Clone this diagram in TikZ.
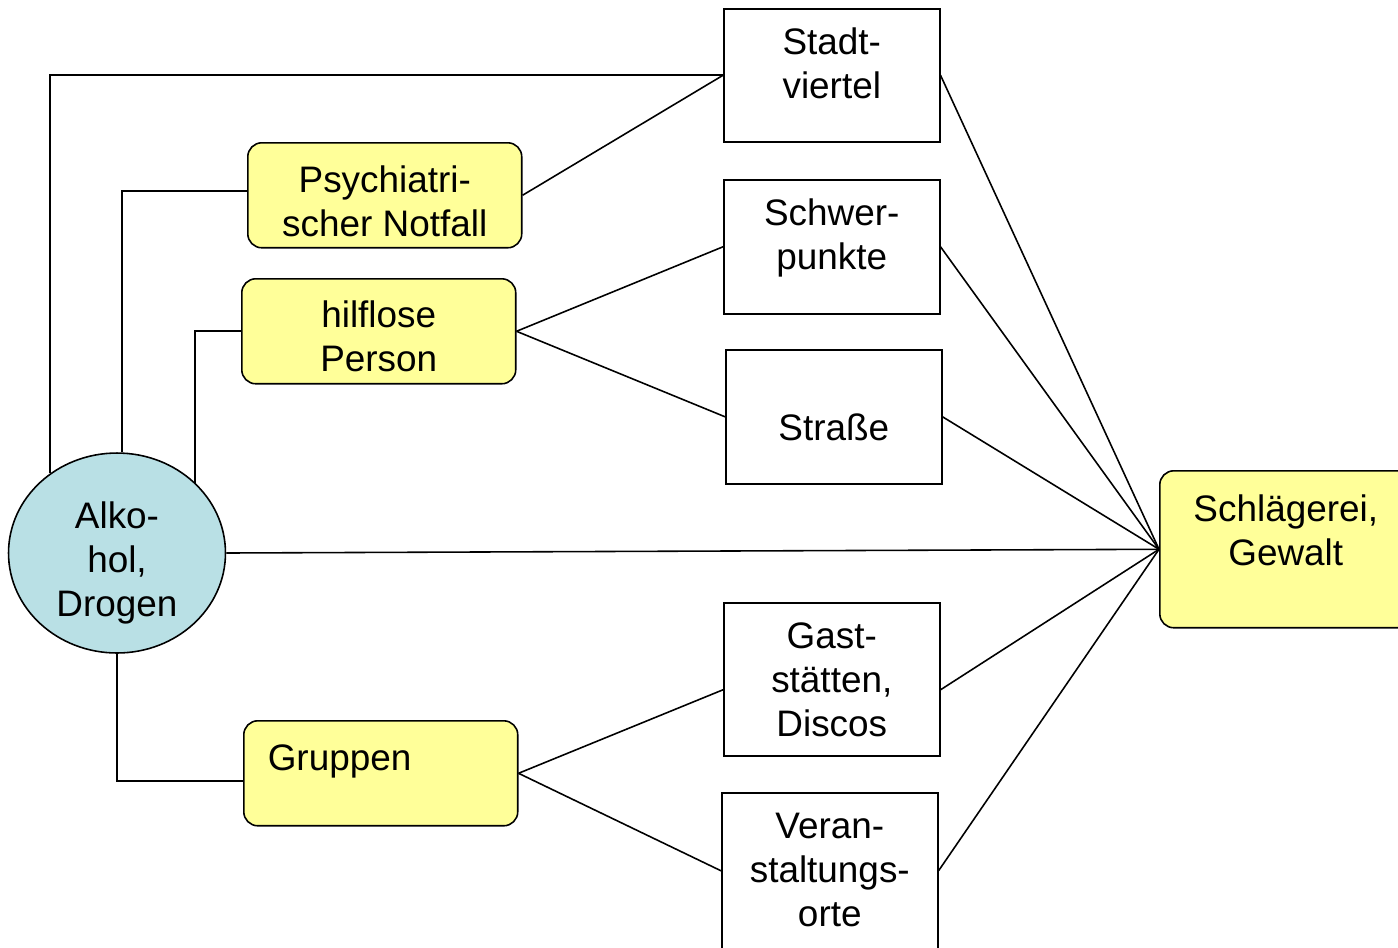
\documentclass[tikz,border=0pt]{standalone}
\usepackage{fontspec}
\setmainfont{Liberation Sans}
\usetikzlibrary{shapes.geometric}
\definecolor{notegelb}{RGB}{255,255,153}
\definecolor{drogenblau}{RGB}{185,224,229}
% box text: [alignment]{width}{height}{top gap}{text}
\newcommand{\boxtext}[5][\centering]{\parbox[c][#3][t]{#2}{\vspace*{#4}#1\strut #5}}

\begin{document}
\begin{tikzpicture}[x=0.02cm, y=-0.02cm, line width=0.9pt,
	every node/.style={font=\fontsize{21}{25}\selectfont, inner sep=0pt},
	ort/.style={draw, fill=white, anchor=north west},
	gelb/.style={draw, fill=notegelb, rounded corners=0.28cm, anchor=north west}]
	\useasboundingbox (0,0) rectangle (1398,947);
	\clip (0,0) rectangle (1398,947);
	
	% places
	\node[ort] (stadt) at (723,8) {\boxtext{4.32cm}{2.66cm}{8.5pt}{Stadt-\\viertel}};
	\node[ort] (schwer) at (723,179) {\boxtext{4.32cm}{2.68cm}{8.5pt}{Schwer-\\punkte}};
	\node[ort] (strasse) at (725,349) {\boxtext{4.32cm}{2.68cm}{34pt}{Straße}};
	\node[ort] (gast) at (723,602) {\boxtext{4.32cm}{3.06cm}{8.5pt}{Gast-\\stätten,\\Discos}};
	\node[ort] (veran) at (721,792) {\boxtext{4.32cm}{3.4cm}{8.5pt}{Veran-\\staltungs-\\orte}};
	
	% situations
	\node[gelb] (psych) at (247,142) {\boxtext{5.48cm}{2.1cm}{11pt}{Psychiatri-\\scher Notfall}};
	\node[gelb] (hilf) at (241,278) {\boxtext{5.48cm}{2.1cm}{10.5pt}{hilflose\\Person}};
	\node[gelb] (grp) at (243,720) {\boxtext[\raggedright\hspace*{0.48cm}]{5.48cm}{2.1cm}{10.5pt}{Gruppen}};
	\node[gelb] (schl) at (1159,470) {\boxtext{5.04cm}{3.14cm}{11.5pt}{Schlägerei,\\Gewalt}};
	
	% cause
	\node[draw, ellipse, fill=drogenblau, minimum width=4.34cm, minimum height=4cm] (alk) at (117,553)
	{\parbox[c][2cm][c]{3cm}{\centering\vspace*{0.4cm}Alko-\\hol,\\Drogen}};
	
	% from the ellipse
	\draw (alk.130) |- (stadt.west);
	\draw (alk.87) |- ([yshift=0.09cm]psych.west);
	\draw (alk.42) |- (hilf.west);
	\draw (alk.south) |- ([yshift=-0.15cm]grp.west);
	\draw (alk.east) -- (schl.west);
	
	% situations to places
	\draw (psych.east) -- (stadt.west);
	\draw (hilf.east) -- (schwer.west);
	\draw (hilf.east) -- (strasse.west);
	\draw (grp.east) -- ([yshift=-0.21cm]gast.west);
	\draw (grp.east) -- ([yshift=0.14cm]veran.west);
	
	% places to violence
	\foreach \n in {stadt, schwer, strasse}
	\draw (\n.east) -- (schl.west);
	\draw ([yshift=-0.21cm]gast.east) -- (schl.west);
	\draw ([yshift=0.14cm]veran.east) -- (schl.west);
\end{tikzpicture}
\end{document}
